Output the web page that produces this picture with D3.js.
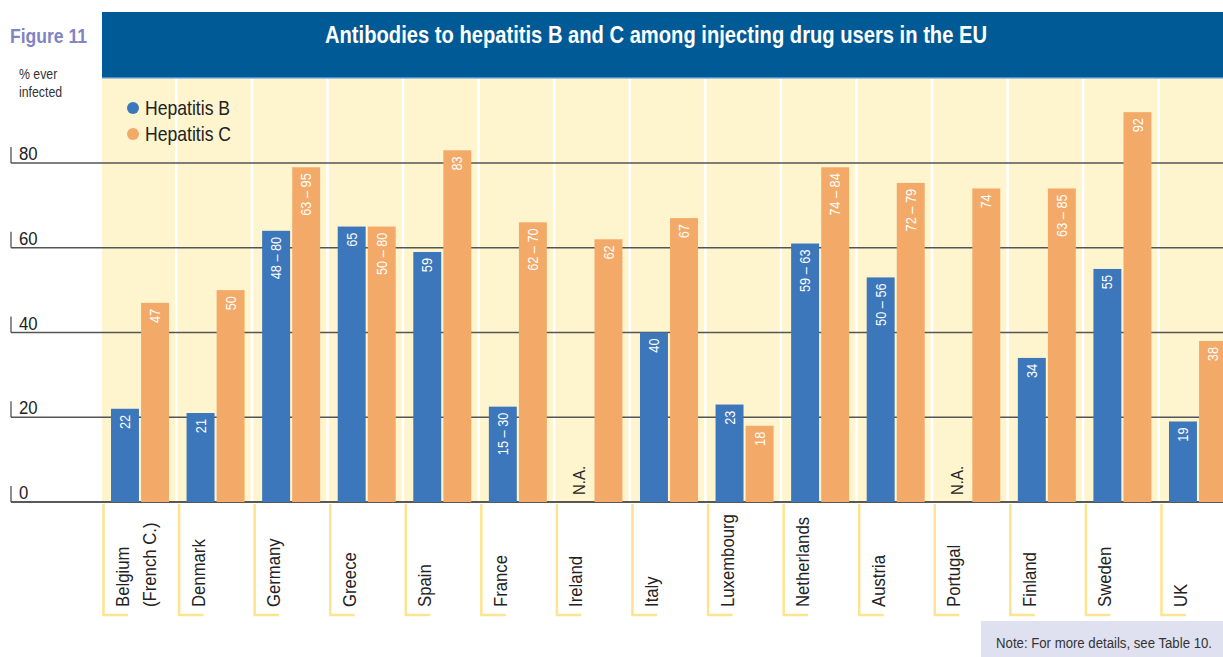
<!DOCTYPE html>
<html>
<head>
<meta charset="utf-8">
<script src="https://cdn.jsdelivr.net/npm/d3@7"></script>
<style>
  body { margin: 0; background: #fff; }
  svg { display: block; font-family: "Liberation Sans", Arial, sans-serif; }
</style>
</head>
<body>
<svg id="chart" width="1223" height="657"></svg>
<script>
/*------------------- data --------------------*/
const countries = ["Belgium", "Denmark", "Germany", "Greece", "Spain", "France", "Ireland", "Italy",
    "Luxembourg", "Netherlands", "Austria", "Portugal", "Finland", "Sweden", "UK"];
const countrySub = ["(French C.)", "", "", "", "", "", "", "", "", "", "", "", "", "", ""];

// bar heights as drawn (ranges drawn at an in-between value), null = N.A.
const hepB = [22, 21, 64, 65, 59, 22.5, null, 40, 23, 61, 53, null, 34, 55, 19];
const hepC = [47, 50, 79, 65, 83, 66, 62, 67, 18, 79, 75.3, 74, 74, 92, 38];

// printed labels
const hepBLabels = ["22", "21", "48 – 80", "65", "59", "15 – 30", "N.A.", "40", "23", "59 – 63", "50 – 56", "N.A.", "34", "55", "19"];
const hepCLabels = ["47", "50", "63 – 95", "50 – 80", "83", "62 – 70", "62", "67", "18", "74 – 84", "72 – 79", "74", "63 – 85", "92", "38"];

const yTicks = [0, 20, 40, 60, 80];
const series = ["Hepatitis B", "Hepatitis C"];
const colors = { "Hepatitis B": "#3c77bb", "Hepatitis C": "#f3aa69" };

/*------------------- layout --------------------*/
const svg = d3.select("#chart");
const plotTop = 79, plotBottom = 502;
const SX = 0.88; // squeeze to mimic the condensed face

const xScale = d3.scaleBand().domain(countries).range([102, 102 + 15 * 75.57]).padding(0);
const inner = d3.scaleBand().domain(series).range([9, 67]).paddingInner(0.07);
const yScale = d3.scaleLinear().domain([0, 80]).range([plotBottom, 163]);

// title bar
svg.append("rect").attr("x", 102).attr("y", 12).attr("width", 1121).attr("height", 66).attr("fill", "#005a96");
svg.append("rect").attr("x", 102).attr("y", 77).attr("width", 1121).attr("height", 1.5).attr("fill", "#4f8ec2");
svg.append("text")
    .attr("x", 325).attr("y", 43)
    .attr("textLength", 662)
    .attr("lengthAdjust", "spacingAndGlyphs")
    .attr("fill", "#fff")
    .style("font-weight", "bold")
    .style("font-size", "24px")
    .text("Antibodies to hepatitis B and C among injecting drug users in the EU");

svg.append("text")
    .attr("x", 10).attr("y", 43)
    .attr("textLength", 77)
    .attr("lengthAdjust", "spacingAndGlyphs")
    .attr("fill", "#7f84c4")
    .style("font-weight", "bold")
    .style("font-size", "21px")
    .text("Figure 11");

svg.append("text").attr("transform", "translate(19,79) scale(" + SX + ",1)").attr("fill", "#333").style("font-size", "14px").text("% ever");
svg.append("text").attr("transform", "translate(19,97) scale(" + SX + ",1)").attr("fill", "#333").style("font-size", "14px").text("infected");

// country background panels
svg.selectAll(".panel")
    .data(countries)
    .enter()
    .append("rect")
    .attr("class", "panel")
    .attr("x", d => xScale(d))
    .attr("y", plotTop)
    .attr("width", xScale.bandwidth() - 2.5)
    .attr("height", plotBottom - plotTop)
    .attr("fill", "#fef5cf");

// gridlines with little tick at the left
const grid = svg.append("g").selectAll("g").data(yTicks).enter().append("g");
grid.append("line")
    .attr("x1", 11).attr("x2", 1223)
    .attr("y1", d => yScale(d)).attr("y2", d => yScale(d))
    .attr("stroke", d => d === 0 ? "#222" : "#555")
    .attr("stroke-width", 1.5);
grid.append("line")
    .attr("x1", 11).attr("x2", 11)
    .attr("y1", d => yScale(d) - 16).attr("y2", d => yScale(d))
    .attr("stroke", "#444")
    .attr("stroke-width", 1.2);
grid.append("text")
    .attr("transform", d => "translate(19," + (yScale(d) - 3) + ") scale(" + SX + ",1)")
    .attr("fill", "#222")
    .style("font-size", "19px")
    .text(d => d);

// bars
const rows = countries.map((c, i) => ({ country: c, i: i }));
const groups = svg.selectAll(".country")
    .data(rows)
    .enter()
    .append("g")
    .attr("class", "country")
    .attr("transform", d => "translate(" + xScale(d.country) + ",0)");

function drawSeries(name, values, labels) {
    const x0 = inner(name), w = inner.bandwidth();
    groups.filter(d => values[d.i] !== null)
        .append("rect")
        .attr("x", x0)
        .attr("y", d => yScale(values[d.i]))
        .attr("width", w)
        .attr("height", d => plotBottom - yScale(values[d.i]))
        .attr("fill", colors[name]);
    groups.filter(d => values[d.i] !== null)
        .append("text")
        .attr("transform", d => "translate(" + (x0 + w / 2) + "," + (yScale(values[d.i]) + 6) + ") rotate(-90) scale(" + SX + ",1)")
        .attr("text-anchor", "end")
        .attr("dy", "0.35em")
        .attr("fill", "#fff")
        .style("font-size", "14.5px")
        .text(d => labels[d.i]);
    // N.A. markers
    groups.filter(d => values[d.i] === null)
        .append("text")
        .attr("transform", "translate(" + (x0 + w / 2 + 1) + "," + (plotBottom - 7) + ") rotate(-90) scale(" + SX + ",1)")
        .attr("text-anchor", "start")
        .attr("dy", "0.35em")
        .attr("fill", "#222")
        .style("font-size", "17px")
        .text(d => labels[d.i]);
}
drawSeries("Hepatitis B", hepB, hepBLabels);
drawSeries("Hepatitis C", hepC, hepCLabels);

// country labels with yellow brackets
groups.append("path")
    .attr("d", "M1.5,504 V615 H26")
    .attr("fill", "none")
    .attr("stroke", "#fde490")
    .attr("stroke-width", 2.5);
groups.append("text")
    .attr("transform", "translate(27,607) rotate(-90) scale(" + SX + ",1)")
    .attr("fill", "#222")
    .style("font-size", "19px")
    .text(d => d.country);
groups.filter(d => countrySub[d.i] !== "")
    .append("text")
    .attr("transform", "translate(54,607) rotate(-90) scale(" + SX + ",1)")
    .attr("fill", "#222")
    .style("font-size", "19px")
    .text(d => countrySub[d.i]);

// legend
const legend = svg.append("g").selectAll("g").data(series).enter().append("g")
    .attr("transform", (d, i) => "translate(133," + (108 + i * 26) + ")");
legend.append("circle").attr("r", 6).attr("fill", d => colors[d]);
legend.append("text")
    .attr("transform", "translate(12,7) scale(" + SX + ",1)")
    .attr("fill", "#222")
    .style("font-size", "20px")
    .text(d => d);

// note
svg.append("rect").attr("x", 981).attr("y", 621).attr("width", 242).attr("height", 36).attr("fill", "#dfe1f0");
svg.append("text")
    .attr("transform", "translate(1104,648) scale(" + SX + ",1)")
    .attr("text-anchor", "middle")
    .attr("fill", "#333")
    .style("font-size", "15px")
    .text("Note:  For more details, see Table 10.");
</script>
</body>
</html>
